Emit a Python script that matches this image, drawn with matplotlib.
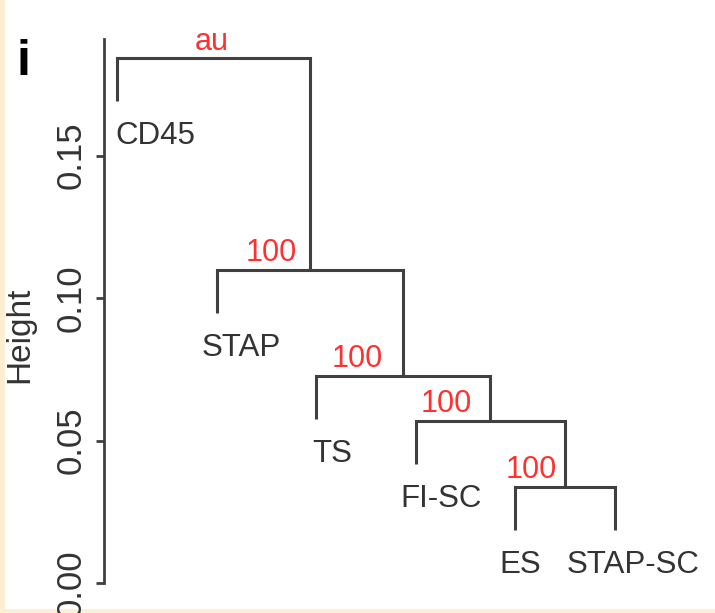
import matplotlib
matplotlib.use('Agg')
import matplotlib.pyplot as plt
from matplotlib.patches import Rectangle

# === data: hierarchical clustering (R-style merge matrix) ===
leaves = ['CD45', 'STAP', 'TS', 'FI-SC', 'ES', 'STAP-SC']
merge_left = [-5, -4, -3, -2, -1]    # negative = leaf index, positive = earlier merge
merge_right = [-6, 1, 2, 3, 4]
heights = [0.0337, 0.0568, 0.0726, 0.1098, 0.1842]
au_values = [100, 100, 100, 100]     # root carries the "au" header instead
yticks = [0.00, 0.05, 0.10, 0.15]

LINE = '#404040'
TEXT = '#333333'
RED = '#ff3030'
PX = 0.72  # points per pixel at dpi 100

plt.rcParams['font.family'] = ['Liberation Sans', 'DejaVu Sans']

fig = plt.figure(figsize=(7.15, 6.13), dpi=100, facecolor='#fdf0d2')
fig.patches.append(Rectangle((5 / 715, 4 / 613), 1, 1, transform=fig.transFigure,
                             facecolor='white', edgecolor='none', zorder=-1))
ax = fig.add_axes([104 / 715, 13 / 613, 601 / 715, 580 / 613])
ax.set_facecolor('none')

hang = 0.1 * (max(heights) - min(heights))
node_x = []

# per-node label nudges (pixels), to sit like the original
au_dx = [-8, -19, -20, -13]
leaf_dx = [-2, -15, -4, -15, -16, -48]

def child(c, h):
    if c < 0:
        i = -c - 1
        y0 = h - hang
        ax.annotate(leaves[i], (i + 1, y0), xytext=(leaf_dx[i] * PX, -43 * PX),
                    textcoords='offset points', ha='left', va='baseline',
                    fontsize=22.5, color=TEXT)
        return i + 1, y0
    return node_x[c - 1], heights[c - 1]

for k, (a, b) in enumerate(zip(merge_left, merge_right)):
    h = heights[k]
    x1, y1 = child(a, h)
    x2, y2 = child(b, h)
    ax.plot([x1, x1, x2, x2], [y1, h, h, y2], color=LINE, lw=2.2,
            solid_joinstyle='miter', solid_capstyle='butt')
    xc = (x1 + x2) / 2
    node_x.append(xc)
    if k < len(au_values):
        ax.annotate(str(au_values[k]), (xc, h), xytext=(au_dx[k] * PX, 9 * PX),
                    textcoords='offset points', ha='right', va='baseline',
                    fontsize=22, color=RED)
    else:
        ax.annotate('au', (xc, h), xytext=(-2 * PX, 8 * PX),
                    textcoords='offset points', ha='center', va='baseline',
                    fontsize=22, color=RED)

# axes styling (R base look)
x0 = 1 - 13 / 99.6
ax.set_xlim(x0, x0 + 601 / 99.6)
ax.set_ylim(-17 / 2850, 563 / 2850)
for s in ['top', 'right', 'bottom']:
    ax.spines[s].set_visible(False)
ax.spines['left'].set_color(LINE)
ax.spines['left'].set_linewidth(2)
ax.spines['left'].set_bounds(0, 0.191)
ax.set_xticks([])
ax.set_yticks(yticks)
ax.set_yticklabels(['%.2f' % v for v in yticks])
ax.tick_params(axis='y', length=6, width=2, color=LINE, pad=6,
               labelsize=25, labelcolor=TEXT)
plt.setp(ax.get_yticklabels(), rotation=90, va='center')
ax.set_ylabel('Height', fontsize=24, color=TEXT, va='center')
ax.yaxis.set_label_coords(-84 / 601, (593 - 328) / 580)

fig.text(23 / 715, 1 - 75 / 613, 'i', fontsize=36, fontweight='bold',
         ha='center', va='baseline', color='black')

fig.savefig('out.png', dpi=100, facecolor=fig.get_facecolor())
